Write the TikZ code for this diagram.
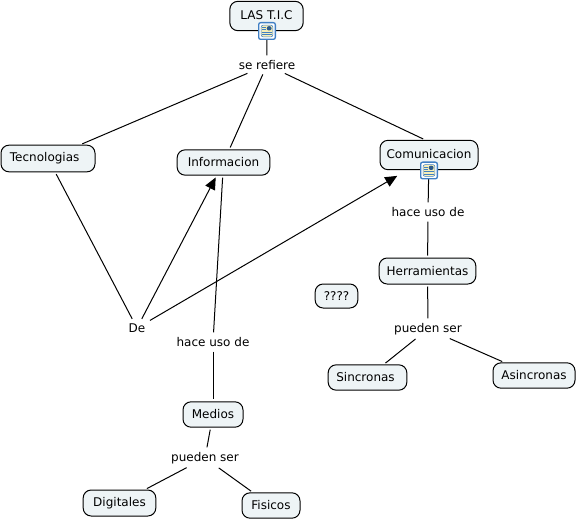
\documentclass[tikz,border=0pt]{standalone}
\usepackage{fontspec}
\setmainfont{DejaVu Sans}
\usetikzlibrary{arrows.meta}
\definecolor{conceptfill}{HTML}{EEF4F6}
\definecolor{iconblue}{HTML}{3F7FC4}
\definecolor{iconpage}{HTML}{F6EFB8}
\begin{document}
\begin{tikzpicture}[%
      x=0.75pt, y=-0.75pt,
      concept/.style={%
        draw          = black,
        line width    = 0.75pt,
        fill          = conceptfill,
        rounded corners = 6pt,
        align         = center,
        inner sep     = 0pt,
        font          = \fontsize{9pt}{11pt}\selectfont,
      },
      linkphrase/.style={%
        align         = center,
        inner sep     = 2pt,
        fill          = white,
        font          = \fontsize{9pt}{11pt}\selectfont,
      },
      docicon/.style={%
        draw          = iconblue,
        line width    = 1pt,
        fill          = white,
        rounded corners = 1.5pt,
        minimum size  = 12.5pt,
        inner sep     = 0pt,
        path picture  = {
          \fill[iconpage] ([xshift=-4.4pt,yshift=-4.4pt]path picture bounding box.center) rectangle ++(8.8pt,8.8pt);
          \draw[line width=0.4pt] ([xshift=-4.4pt,yshift=-4.4pt]path picture bounding box.center) rectangle ++(8.8pt,8.8pt);
          \fill[iconblue!70!black] ([xshift=-0.2pt,yshift=0.4pt]path picture bounding box.center) rectangle ++(3.6pt,3.2pt);
          \draw[line width=0.55pt] ([xshift=-3.6pt,yshift=2.6pt]path picture bounding box.center) -- ++(2.8pt,0);
          \draw[line width=0.55pt] ([xshift=-3.6pt,yshift=1.1pt]path picture bounding box.center) -- ++(2.8pt,0);
          \draw[line width=0.55pt] ([xshift=-3.6pt,yshift=-0.9pt]path picture bounding box.center) -- ++(7.2pt,0);
          \draw[line width=0.55pt] ([xshift=-3.6pt,yshift=-2.6pt]path picture bounding box.center) -- ++(7.2pt,0);
        },
      },
      link/.style={line width=0.75pt, shorten <=1.5pt, shorten >=1.5pt},
      linkarrow/.style={link, -{Triangle[length=9pt,width=8pt]}},
      ]

      \useasboundingbox (0,0) rectangle (577,520);

      \node[concept, minimum width=55pt, minimum height=22pt] (Las-Tic) at (266.5,16) {\raisebox{2pt}{LAS T.I.C}};
      \node[concept, minimum width=70.5pt, minimum height=20pt] (Tecnologias) at (48,158.5) {Tecnologias\hspace{5pt}};
      \node[concept, minimum width=69.5pt, minimum height=19pt] (Informacion) at (223.5,162.5) {Informacion};
      \node[concept, minimum width=73.5pt, minimum height=22pt] (Comunicacion) at (429,155) {\raisebox{1.5pt}{Comunicacion}};
      \node[concept, minimum width=72.5pt, minimum height=19.5pt] (Herramientas) at (427.5,271) {Herramientas};
      \node[concept, minimum width=32pt, minimum height=18pt] (Dudas) at (336.5,296) {????};
      \node[concept, minimum width=59pt, minimum height=19pt] (Sincronas) at (367.5,377.5) {Sincronas\hspace{3pt}};
      \node[concept, minimum width=61.5pt, minimum height=19pt] (Asincronas) at (534,375.5) {Asincronas};
      \node[concept, minimum width=45pt, minimum height=19pt] (Medios) at (213,414.5) {Medios};
      \node[concept, minimum width=54.5pt, minimum height=19.5pt] (Digitales) at (119.5,503) {Digitales};
      \node[concept, minimum width=43.5pt, minimum height=19pt] (Fisicos) at (271,505.5) {Fisicos};

      \node[linkphrase] (Se-Refiere) at (267,65) {se refiere};
      \node[linkphrase] (Uso-Com) at (428,212) {hace uso de};
      \node[linkphrase] (De) at (137,328) {De};
      \node[linkphrase] (Uso-Inf) at (213,342) {hace uso de};
      \node[linkphrase] (Pueden-Her) at (428,329) {pueden ser};
      \node[linkphrase] (Pueden-Med) at (205,458) {pueden ser};

      \draw[link] (Las-Tic) -- (Se-Refiere);
      \draw[link] (Se-Refiere) -- (Tecnologias);
      \draw[link] (Se-Refiere) -- (Informacion);
      \draw[link] (Se-Refiere) -- ([xshift=-3pt]Comunicacion.north);

      \draw[link] (Tecnologias) -- (De);
      \draw[linkarrow] (De) -- (Informacion);
      \draw[linkarrow, shorten >=8.5pt] (De) -- ([xshift=-16.5pt]Comunicacion.south);

      \draw[link] (Informacion) -- (Uso-Inf);
      \draw[link] (Uso-Inf) -- (Medios);
      \draw[link] (Medios) -- (Pueden-Med);
      \draw[link] (Pueden-Med) -- (Digitales);
      \draw[link] (Pueden-Med) -- (Fisicos);

      \draw[link] (Comunicacion) -- (Uso-Com);
      \draw[link] (Uso-Com) -- (Herramientas);
      \draw[link] (Herramientas) -- (Pueden-Her);
      \draw[link] (Pueden-Her) -- (Sincronas);
      \draw[link] (Pueden-Her) -- (Asincronas);

      \node[docicon] (Icon-Las) at (267,31) {};
      \node[docicon] (Icon-Com) at (429,170.5) {};

    \end{tikzpicture}
\end{document}
